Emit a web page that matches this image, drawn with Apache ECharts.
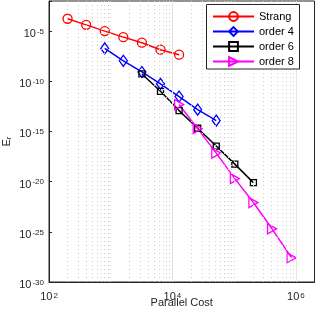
<!DOCTYPE html>
<html><head><meta charset="utf-8">
<script src="https://cdn.jsdelivr.net/npm/echarts@6/dist/echarts.min.js"></script>
<style>html,body{margin:0;padding:0;background:#fff}#c{width:316px;height:316px}</style>
</head><body><div id="c"></div>
<script>
const strangCost=[200,400,800,1600,3200,6400,12800];
const strangErr=[1.7e-4,4.2e-5,1e-5,2.5e-6,7e-7,1.4e-7,4.5e-8];
const order4Cost=[800,1600,3200,6400,12800,25600,51200];
const order4Err=[1.9e-7,1.1e-8,8.5e-10,5.5e-11,3e-12,1.5e-13,1.2e-14];
const order6Cost=[3200,6400,12800,25600,51200,102400,204800];
const order6Err=[5.4e-10,1e-11,1.2e-13,2.1e-15,3.5e-17,5.6e-19,8e-21];
const order8Cost=[12800,25600,51200,102400,204800,409600,850000];
const order8Err=[4.8e-13,1.9e-15,7e-18,2e-20,8.3e-23,2e-25,2.6e-28];
const xTickExps=[2,4,6];
const yTickExps=[-30,-25,-20,-15,-10,-5];
const seriesNames=['Strang','order 4','order 6','order 8'];

const FONT='Liberation Sans';
// tiny margins so the log scale keeps the end decades as nice ticks
const XMIN=99.9999, XMAX=2e6, YMIN=1e-30, YMAX=1e-2;
function pairs(xs,ys){return xs.map((x,i)=>[x,ys[i]]);}

// grid lines (MATLAB style: solid major, dotted minor)
const gl=[];
const minorStyle={type:[1,3],color:'#cfcfcf',width:1};
const majorStyle={type:'solid',color:'#e4e4e4',width:1};
for(let e=2;e<=6;e++){
  for(let m=1;m<=9;m++){
    const v=m*Math.pow(10,e);
    if(v<=100||v>=XMAX) continue;
    if(m===1 && xTickExps.includes(e)) gl.push({xAxis:v,lineStyle:majorStyle});
    else gl.push({xAxis:v,lineStyle:minorStyle});
  }
}
for(let e=-29;e<=-3;e++){
  const v=Math.pow(10,e);
  if(yTickExps.includes(e)) gl.push({yAxis:v,lineStyle:majorStyle});
  else gl.push({yAxis:v,lineStyle:minorStyle});
}

function expLabel(list){
  return function(v){
    const l=Math.log10(v), e=Math.round(l);
    if(Math.abs(l-e)>1e-3 || !list.includes(e)) return '';
    return '{b|10}{s|'+e+'}';
  };
}
// labels for the exponent axis (value = decade exponent)
function decadeLabel(list){
  return function(v){
    const e=Math.round(v);
    if(!list.includes(e)) return '';
    return '{b|10}{s|'+e+'}';
  };
}
function mkRich(lh){
  return {
    b:{fontSize:11,fontFamily:FONT,color:'#262626',verticalAlign:'bottom',lineHeight:lh},
    s:{fontSize:8,fontFamily:FONT,color:'#262626',verticalAlign:'top',lineHeight:lh,padding:[0,0,0,1]}
  };
}

const colors=['#ff0000','#0000ff','#000000','#ff00ff'];
const symbols=['circle','diamond','rect','triangle'];
const sizes=[9,[8,11],6,[10,9]];
const rot=[0,0,0,-90];
const datas=[pairs(strangCost,strangErr),pairs(order4Cost,order4Err),pairs(order6Cost,order6Err),pairs(order8Cost,order8Err)];

const series=[{
  type:'line',data:[],silent:true,z:1,yAxisIndex:0,
  markLine:{silent:true,symbol:['none','none'],label:{show:false},animation:false,data:gl}
}];
seriesNames.forEach((n,i)=>{
  series.push({
    name:n,type:'line',data:datas[i],z:3,yAxisIndex:0,
    symbol:symbols[i],symbolSize:sizes[i],symbolRotate:rot[i],showAllSymbol:true,
    lineStyle:{color:colors[i],width:1.5},
    itemStyle:{color:'rgba(255,255,255,0)',borderColor:colors[i],borderWidth:1.3},
    animation:false
  });
});

const chart=echarts.init(document.getElementById('c'),null,{renderer:'canvas'});
chart.setOption({
  backgroundColor:'#fff',
  animation:false,
  grid:{left:49,right:1.5,top:1,bottom:34,show:true,borderColor:'#262626',borderWidth:1,backgroundColor:'#fff',outerBoundsMode:'none',containLabel:false},
  graphic:[{type:'rect',z:9,silent:true,shape:{x:206.5,y:4.5,width:93,height:64.5},style:{fill:'#fff',stroke:'#262626',lineWidth:1}}],
  legend:{
    data:seriesNames,orient:'vertical',left:207,top:6,z:10,
    itemWidth:41,itemHeight:11,itemGap:4,padding:[5,6,5,5],
    backgroundColor:'transparent',borderWidth:0,
    textStyle:{fontSize:11,fontFamily:FONT,color:'#000'},
    symbolRotate:'inherit'
  },
  xAxis:{
    type:'log',logBase:10,min:XMIN,max:XMAX,interval:2,
    name:'Parallel Cost',nameLocation:'middle',nameGap:15,nameMoveOverlap:false,
    nameTextStyle:{fontSize:11,fontFamily:FONT,color:'#262626'},
    axisLine:{show:true,lineStyle:{color:'#262626'}},
    axisTick:{show:true,inside:true,length:3,lineStyle:{color:'#262626'}},
    axisLabel:{formatter:expLabel(xTickExps),rich:mkRich(10),margin:10,showMinLabel:true,showMaxLabel:true,hideOverlap:false},
    splitLine:{show:false}
  },
  yAxis:[{
    type:'log',logBase:10,min:YMIN,max:YMAX,interval:5,position:'left',
    name:'E{r|r}',nameLocation:'middle',nameGap:36,nameRotate:90,nameMoveOverlap:false,
    nameTextStyle:{fontSize:11,fontFamily:FONT,color:'#262626',rich:{r:{fontSize:8,fontFamily:FONT,color:'#262626',verticalAlign:'bottom',padding:[4,0,0,0]}}},
    axisLine:{show:true,lineStyle:{color:'#262626'}},
    axisTick:{show:true,inside:true,length:3,lineStyle:{color:'#262626'}},
    axisLabel:{show:false},
    splitLine:{show:false}
  },{
    type:'value',min:Math.round(Math.log10(YMIN)),max:Math.round(Math.log10(YMAX)),interval:5,position:'left',offset:0,
    axisLine:{show:false},axisTick:{show:false},splitLine:{show:false},
    axisLabel:{formatter:decadeLabel(yTickExps),rich:mkRich(12),margin:5,padding:[5,0,0,0],showMinLabel:true,showMaxLabel:true,hideOverlap:false}
  }],
  series:series
});
</script></body></html>
